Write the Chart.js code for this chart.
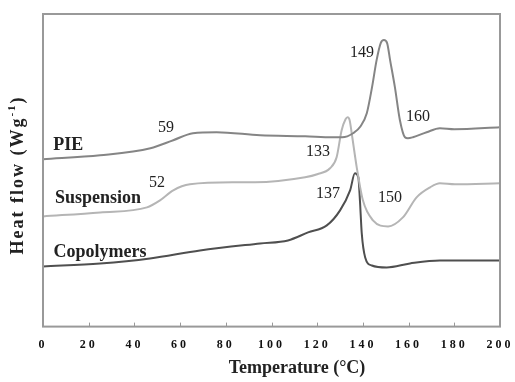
<!DOCTYPE html>
<html>
<head>
<meta charset="utf-8">
<script src="https://cdn.jsdelivr.net/npm/chart.js@4.4.1/dist/chart.umd.min.js"></script>
<style>
  html, body { margin: 0; padding: 0; background: #fff; }
  #wrap { width: 515px; height: 382px; position: relative; }
</style>
</head>
<body>
<div id="wrap"><canvas id="dsc-chart"></canvas></div>
<script>
// temperatura (°C) e fluxo de calor (unidades arbitrárias)
const pieTemp = [0, 25, 47, 57, 65.6, 76, 95, 114.7, 126.5, 131, 135.7, 139, 141.7, 144, 146, 147.8, 149.2, 150.6, 151.9, 154, 156.2, 158.4, 159.7, 161.9, 167.9, 173.7, 180, 200];
const pieFlow = [16.7, 17.1, 17.8, 18.6, 19.3, 19.4, 19.1, 19.0, 18.9, 18.9, 19.3, 20.0, 21.3, 23.9, 26.6, 28.3, 28.6, 28.3, 26.6, 23.9, 20.6, 18.9, 18.8, 18.9, 19.4, 19.8, 19.7, 19.9];

const suspTemp = [0, 25, 45.5, 51.2, 57, 64.3, 83, 92.8, 114.7, 120, 125.6, 128.5, 130.7, 132.4, 133.3, 134.2, 135.1, 137.3, 140, 144.4, 151, 157.5, 163.5, 169.4, 173.7, 180.3, 200];
const suspFlow = [11.0, 11.4, 11.9, 12.6, 13.6, 14.2, 14.4, 14.4, 14.9, 15.2, 15.8, 16.9, 19.6, 20.7, 20.9, 20.6, 19.3, 15.9, 12.6, 10.6, 10.0, 10.9, 12.9, 13.9, 14.3, 14.2, 14.3];

const copoTemp = [0, 25, 46.8, 68.7, 95, 107.2, 116, 124.2, 130, 134.4, 136.5, 138, 138.7, 139.5, 141, 143.9, 150.4, 160.6, 173.7, 200];
const copoFlow = [6.0, 6.3, 6.8, 7.6, 8.3, 8.6, 9.4, 10.1, 11.6, 13.6, 15.3, 14.9, 12.6, 9.3, 6.9, 6.1, 5.9, 6.3, 6.6, 6.6];

const xTicks = [0, 20, 40, 60, 80, 100, 120, 140, 160, 180, 200];

const toPoints = (xs, ys) => xs.map((x, i) => ({ x, y: ys[i] }));

const SERIF = "'Liberation Serif', 'Times New Roman', serif";

// rótulos escritos dentro do gráfico (posição em coordenadas de dados)
const notes = [
  { text: "PIE", x: 11, y: 18.1, bold: true },
  { text: "Suspension", x: 24.1, y: 12.8, bold: true },
  { text: "Copolymers", x: 24.9, y: 7.4, bold: true },
  { text: "59", x: 53.8, y: 19.8 },
  { text: "52", x: 49.9, y: 14.4 },
  { text: "133", x: 120.4, y: 17.4 },
  { text: "137", x: 124.7, y: 13.3 },
  { text: "149", x: 139.6, y: 27.3 },
  { text: "160", x: 164.1, y: 20.9 },
  { text: "150", x: 151.9, y: 12.9 },
];

const framePlugin = {
  id: "frame",
  beforeDraw(chart) {
    chart.ctx.letterSpacing = "3px";
  },
  afterDraw(chart) {
    const { ctx, chartArea: a, scales } = chart;
    ctx.save();
    ctx.letterSpacing = "0px";

    // moldura
    ctx.strokeStyle = "#999";
    ctx.lineWidth = 2;
    ctx.strokeRect(a.left, a.top, a.right - a.left, a.bottom - a.top);

    // marcas para dentro no eixo x
    ctx.lineWidth = 1;
    xTicks.slice(1, -1).forEach((t) => {
      const px = Math.round(scales.x.getPixelForValue(t)) + 0.5;
      ctx.beginPath();
      ctx.moveTo(px, a.bottom);
      ctx.lineTo(px, a.bottom - 4);
      ctx.stroke();
    });

    // textos
    ctx.fillStyle = "#222";
    ctx.textAlign = "center";
    ctx.textBaseline = "middle";
    notes.forEach((n) => {
      ctx.font = (n.bold ? "bold 18px " : "16px ") + SERIF;
      ctx.fillText(n.text, scales.x.getPixelForValue(n.x), scales.y.getPixelForValue(n.y));
    });

    // título do eixo x
    ctx.font = "bold 18px " + SERIF;
    ctx.fillText("Temperature (°C)", 297, 368);

    // título do eixo y com expoente
    ctx.translate(18, 175);
    ctx.rotate(-Math.PI / 2);
    ctx.letterSpacing = "2px";
    ctx.textAlign = "left";
    const main = "Heat flow (Wg";
    ctx.font = "bold 18px " + SERIF;
    const w1 = ctx.measureText(main).width;
    ctx.font = "bold 11px " + SERIF;
    const w2 = ctx.measureText("-1").width;
    ctx.font = "bold 18px " + SERIF;
    const w3 = ctx.measureText(")").width;
    const start = -(w1 + w2 + w3) / 2;
    ctx.fillText(main, start, 0);
    ctx.font = "bold 11px " + SERIF;
    ctx.fillText("-1", start + w1, -6);
    ctx.font = "bold 18px " + SERIF;
    ctx.fillText(")", start + w1 + w2, 0);
    ctx.restore();
  },
};

const lineStyle = {
  borderWidth: 2,
  pointRadius: 0,
  fill: false,
  cubicInterpolationMode: "monotone",
};

new Chart(document.getElementById("dsc-chart"), {
  type: "line",
  data: {
    datasets: [
      { label: "PIE", data: toPoints(pieTemp, pieFlow), borderColor: "#858585", ...lineStyle },
      { label: "Suspension", data: toPoints(suspTemp, suspFlow), borderColor: "#b5b5b5", ...lineStyle },
      { label: "Copolymers", data: toPoints(copoTemp, copoFlow), borderColor: "#4f4f4f", ...lineStyle },
    ],
  },
  options: {
    responsive: true,
    maintainAspectRatio: false,
    animation: false,
    layout: { padding: { left: 43, right: 15, top: 14, bottom: 19 } },
    plugins: {
      legend: { display: false },
      tooltip: { enabled: false },
    },
    scales: {
      x: {
        type: "linear",
        min: 0,
        max: 200,
        afterBuildTicks: (scale) => {
          scale.ticks = xTicks.map((v) => ({ value: v }));
        },
        afterFit: (scale) => {
          scale.paddingLeft = 0;
          scale.paddingRight = 0;
        },
        grid: { display: false, drawTicks: false },
        border: { display: false },
        ticks: {
          color: "#111",
          padding: 11,
          maxRotation: 0,
          autoSkip: false,
          font: { family: SERIF, size: 12, weight: "bold" },
        },
      },
      y: {
        display: false,
        min: 0,
        max: 31.2,
      },
    },
  },
  plugins: [framePlugin],
});
</script>
</body>
</html>
